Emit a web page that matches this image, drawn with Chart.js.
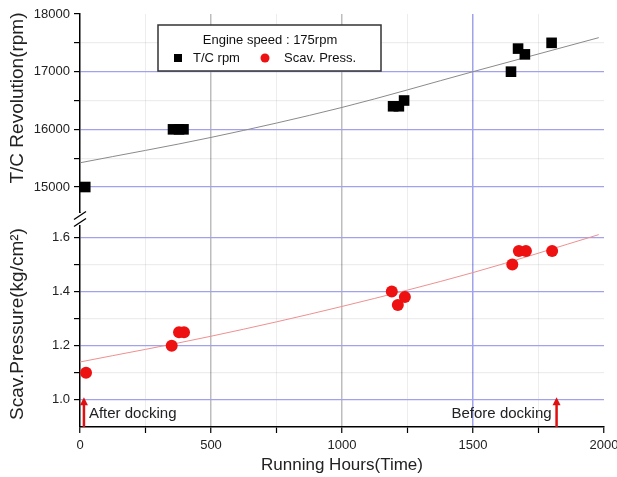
<!DOCTYPE html>
<html>
<head>
<meta charset="utf-8">
<script src="https://cdn.jsdelivr.net/npm/chart.js@4.4.0/dist/chart.umd.min.js"></script>
<style>
html, body { margin: 0; padding: 0; background: #fff; }
</style>
</head>
<body>
<canvas id="c" width="617" height="477"></canvas>
<script>
// datos
const tcHours = [20, 355, 378, 395, 1195, 1217, 1237, 1645, 1672, 1698, 1800];
const tcRpm = [15000, 16000, 16000, 16000, 16400, 16400, 16500, 17000, 17400, 17300, 17500];
const scavHours = [23, 350, 378, 397, 1190, 1213, 1240, 1650, 1675, 1702, 1802];
const scavPress = [1.10, 1.20, 1.25, 1.25, 1.40, 1.35, 1.38, 1.50, 1.55, 1.55, 1.55];

// curvas de ajuste
const fitHours = [0, 500, 1000, 1500, 1980];
const tcFit = [15420, 15860, 16380, 17000, 17590];
const scavFit = [1.14, 1.235, 1.345, 1.47, 1.61];

// ejes
const hourTicks = [0, 500, 1000, 1500, 2000];
const hourMinor = [250, 750, 1250, 1750];
const rpmTicks = [15000, 16000, 17000, 18000];
const rpmMinor = [15500, 16500, 17500];
const pressTicks = [1.0, 1.2, 1.4, 1.6];
const pressMinor = [1.1, 1.3, 1.5];

const legendTitle = 'Engine speed : 175rpm';
const arrowHours = [15, 1819];
const arrowLabels = ['After docking', 'Before docking'];

const FONT = 'Arial, "Liberation Sans", sans-serif';
const majorBlue = '#a2a2ec';
const minorGrey = 'rgba(0,0,0,0.07)';

const pts = (xs, ys) => xs.map((x, i) => ({ x: x, y: ys[i] }));
const isMajor = (list, v) => list.some(t => Math.abs(t - v) < 1e-6);

function yGrid(majors, hideTop) {
  return {
    color: c => {
      const v = c.tick.value;
      if (v === hideTop) return 'rgba(0,0,0,0)';
      return isMajor(majors, v) ? majorBlue : minorGrey;
    },
    tickColor: '#000',
    tickLength: 6,
    tickWidth: 1.2,
    lineWidth: 1.2
  };
}

const decor = {
  id: 'decor',
  afterDraw(chart) {
    const { ctx, scales } = chart;
    const xs = scales.x, yT = scales.yT, yP = scales.yP;
    const left = chart.chartArea.left;
    ctx.save();

    // corte del eje
    const yb = yT.bottom + 6;
    ctx.fillStyle = '#fff';
    ctx.fillRect(left - 2, yb - 6, 4, 12);
    ctx.strokeStyle = '#000';
    ctx.lineWidth = 1.3;
    [-3.5, 3.5].forEach(d => {
      ctx.beginPath();
      ctx.moveTo(left - 6, yb + d + 4);
      ctx.lineTo(left + 6, yb + d - 4);
      ctx.stroke();
    });

    // titulos de los ejes y
    ctx.fillStyle = '#222';
    ctx.font = '19px ' + FONT;
    ctx.textAlign = 'center';
    ctx.textBaseline = 'middle';
    [['T/C Revolution(rpm)', 98], ['Scav.Pressure(kg/cm\u00b2)', 324]].forEach(([t, cy]) => {
      ctx.save();
      ctx.translate(18, cy);
      ctx.rotate(-Math.PI / 2);
      ctx.fillText(t, 0, 0);
      ctx.restore();
    });

    // leyenda
    ctx.fillStyle = '#fff';
    ctx.fillRect(158, 25, 223, 46);
    ctx.strokeStyle = '#333';
    ctx.lineWidth = 1.5;
    ctx.strokeRect(158, 25, 223, 46);
    ctx.fillStyle = '#111';
    ctx.font = '13px ' + FONT;
    ctx.textAlign = 'center';
    ctx.fillText(legendTitle, 270, 40);
    const ds = chart.data.datasets;
    ctx.textAlign = 'left';
    ctx.fillStyle = ds[0].backgroundColor;
    ctx.fillRect(174, 54, 8, 8);
    ctx.fillStyle = '#111';
    ctx.fillText(ds[0].label, 193, 58);
    ctx.fillStyle = ds[1].backgroundColor;
    ctx.beginPath();
    ctx.arc(265, 58, 4.5, 0, Math.PI * 2);
    ctx.fill();
    ctx.fillStyle = '#111';
    ctx.fillText(ds[1].label, 284, 58);

    // flechas
    arrowHours.forEach((h, i) => {
      const px = xs.getPixelForValue(h);
      const base = yP.bottom;
      const tip = yP.getPixelForValue(1.01);
      ctx.strokeStyle = '#e01010';
      ctx.fillStyle = '#e01010';
      ctx.lineWidth = 2.5;
      ctx.beginPath();
      ctx.moveTo(px, base);
      ctx.lineTo(px, tip + 6);
      ctx.stroke();
      ctx.beginPath();
      ctx.moveTo(px - 4, tip + 8);
      ctx.lineTo(px + 4, tip + 8);
      ctx.lineTo(px, tip);
      ctx.closePath();
      ctx.fill();
      ctx.fillStyle = '#222';
      ctx.font = '15px ' + FONT;
      ctx.textBaseline = 'middle';
      if (i === 0) {
        ctx.textAlign = 'left';
        ctx.fillText(arrowLabels[i], px + 5, 414);
      } else {
        ctx.textAlign = 'right';
        ctx.fillText(arrowLabels[i], px - 5, 414);
      }
    });
    ctx.restore();
  }
};

new Chart(document.getElementById('c'), {
  type: 'scatter',
  data: {
    datasets: [
      {
        label: 'T/C rpm',
        data: pts(tcHours, tcRpm),
        yAxisID: 'yT',
        pointStyle: 'rect',
        pointRadius: 7.5,
        borderWidth: 0,
        backgroundColor: '#000'
      },
      {
        label: 'Scav. Press.',
        data: pts(scavHours, scavPress),
        yAxisID: 'yP',
        pointStyle: 'circle',
        pointRadius: 6,
        borderWidth: 0,
        backgroundColor: '#ee1111'
      },
      {
        label: 'fit rpm',
        data: pts(fitHours, tcFit),
        yAxisID: 'yT',
        showLine: true,
        pointRadius: 0,
        borderColor: '#8a8a8a',
        borderWidth: 1,
        cubicInterpolationMode: 'monotone'
      },
      {
        label: 'fit press',
        data: pts(fitHours, scavFit),
        yAxisID: 'yP',
        showLine: true,
        pointRadius: 0,
        borderColor: '#ee9090',
        borderWidth: 1,
        cubicInterpolationMode: 'monotone'
      }
    ]
  },
  options: {
    responsive: false,
    animation: false,
    layout: { padding: { top: 14, right: 13, bottom: 0, left: 0 } },
    plugins: { legend: { display: false }, tooltip: { enabled: false } },
    scales: {
      x: {
        type: 'linear',
        min: 0,
        max: 2000,
        afterBuildTicks: a => { a.ticks = hourTicks.concat(hourMinor).sort((p, q) => p - q).map(v => ({ value: v })); },
        afterFit: s => { s.height = 50; s.paddingLeft = 0; s.paddingRight = 0; },
        ticks: {
          autoSkip: false,
          maxRotation: 0,
          padding: 5,
          color: '#222',
          font: { family: FONT, size: 13 },
          callback: v => hourTicks.includes(v) ? String(v) : ''
        },
        grid: {
          color: c => {
            const v = c.tick.value;
            if (v === 0 || v === 2000) return 'rgba(0,0,0,0)';
            if (!hourTicks.includes(v)) return minorGrey;
            return v === 1500 ? majorBlue : '#bdbdbd';
          },
          lineWidth: c => hourTicks.includes(c.tick.value) ? 1.5 : 1,
          tickColor: '#000',
          tickLength: 6,
          tickWidth: 1.2
        },
        border: { color: '#000', width: 1.5 },
        title: {
          display: true,
          text: 'Running Hours(Time)',
          color: '#222',
          font: { family: FONT, size: 17 },
          padding: { top: 0, bottom: 1 }
        }
      },
      yP: {
        type: 'linear',
        position: 'left',
        stack: 'panels',
        stackWeight: 213,
        min: 0.9,
        max: 1.69,
        afterBuildTicks: a => { a.ticks = pressTicks.concat(pressMinor).sort((p, q) => p - q).map(v => ({ value: v })); },
        afterFit: s => { s.width = 80; },
        ticks: {
          autoSkip: false,
          padding: 4,
          color: '#222',
          font: { family: FONT, size: 13 },
          callback: v => isMajor(pressTicks, v) ? v.toFixed(1) : ''
        },
        grid: yGrid(pressTicks, null),
        border: { color: '#000', width: 1.5 }
      },
      yT: {
        type: 'linear',
        position: 'left',
        stack: 'panels',
        stackWeight: 198,
        min: 14550,
        max: 18000,
        afterBuildTicks: a => { a.ticks = rpmTicks.concat(rpmMinor).sort((p, q) => p - q).map(v => ({ value: v })); },
        afterFit: s => { s.width = 80; },
        ticks: {
          autoSkip: false,
          padding: 4,
          color: '#222',
          font: { family: FONT, size: 13 },
          callback: v => isMajor(rpmTicks, v) ? String(v) : ''
        },
        grid: yGrid(rpmTicks, 18000),
        border: { color: '#000', width: 1.5 }
      }
    }
  },
  plugins: [decor]
});
</script>
</body>
</html>
